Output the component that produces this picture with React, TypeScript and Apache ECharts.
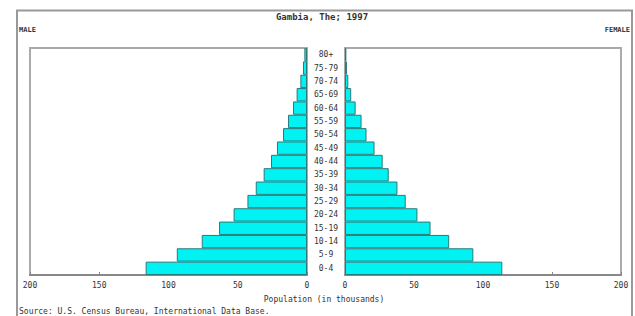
import React, { useEffect, useRef } from "react";
import * as echarts from "echarts";

const ageGroups = ["0-4", "5-9", "10-14", "15-19", "20-24", "25-29", "30-34", "35-39", "40-44", "45-49", "50-54", "55-59", "60-64", "65-69", "70-74", "75-79", "80+"];
const maleValues = [116.5, 94, 76, 63.5, 53, 43, 37, 31.3, 26, 21.7, 17.3, 13.7, 10.1, 7.5, 4.8, 2.9, 1.9];
const femaleValues = [114, 93, 75.5, 62, 52.5, 44, 38, 31.7, 27.3, 21.4, 15.6, 12, 7.7, 4.5, 2.4, 1.4, 1];
const xTicks = [0, 50, 100, 150, 200];

const FONT = "DejaVu Sans Mono";
const TXT = "#333";

export default function App() {
  const ref = useRef<HTMLDivElement>(null);
  useEffect(() => {
    if (!ref.current) return;
    const chart = echarts.init(ref.current, null, { renderer: "svg" });
    const axisCommon = {
      type: "value",
      min: xTicks[0],
      max: xTicks[xTicks.length - 1],
      interval: 50,
      axisLine: { show: true, lineStyle: { color: "#888", width: 2 } },
      axisTick: { show: true, inside: true, length: 3, lineStyle: { color: "#888" } },
      splitLine: { show: false },
      axisLabel: { fontFamily: FONT, fontSize: 8, color: TXT, margin: 6 },
    };
    const barStyle = { color: "#00f2f2", borderColor: "#2a7a7a", borderWidth: 1 };
    chart.setOption({
      animation: false,
      backgroundColor: "#fff",
      grid: [
        { left: 30, right: 328, top: 48, bottom: 41, show: true, borderColor: "#aaa", borderWidth: 2 },
        { left: 345, right: 14, top: 48, bottom: 41, show: true, borderColor: "#aaa", borderWidth: 2 },
      ],
      xAxis: [
        { ...axisCommon, gridIndex: 0, inverse: true },
        { ...axisCommon, gridIndex: 1 },
      ],
      yAxis: [
        {
          type: "category",
          gridIndex: 0,
          data: ageGroups,
          position: "right",
          axisLine: { show: false },
          axisTick: { show: false },
          axisLabel: { fontFamily: FONT, fontSize: 8, color: TXT, margin: 19, align: "center" },
        },
        {
          type: "category",
          gridIndex: 1,
          data: ageGroups,
          axisLine: { show: false },
          axisTick: { show: false },
          axisLabel: { show: false },
        },
      ],
      series: [
        { type: "bar", xAxisIndex: 0, yAxisIndex: 0, data: maleValues, barCategoryGap: 0, itemStyle: barStyle },
        { type: "bar", xAxisIndex: 1, yAxisIndex: 1, data: femaleValues, barCategoryGap: 0, itemStyle: barStyle },
      ],
      graphic: [
        { type: "line", shape: { x1: 16, y1: 10.5, x2: 633, y2: 10.5 }, style: { stroke: "#999", lineWidth: 2 } },
        { type: "line", shape: { x1: 17, y1: 10, x2: 17, y2: 316 }, style: { stroke: "#999", lineWidth: 2 } },
        { type: "line", shape: { x1: 632, y1: 10, x2: 632, y2: 316 }, style: { stroke: "#999", lineWidth: 2 } },
        { type: "text", x: 322, y: 17, style: { text: "Gambia, The; 1997", fontFamily: FONT, fontSize: 9, fontWeight: "bold", fill: TXT, align: "center", verticalAlign: "middle" } },
        { type: "text", x: 19, y: 30, style: { text: "MALE", fontFamily: FONT, fontSize: 7, fontWeight: "bold", fill: TXT, align: "left", verticalAlign: "middle" } },
        { type: "text", x: 630, y: 30, style: { text: "FEMALE", fontFamily: FONT, fontSize: 7, fontWeight: "bold", fill: TXT, align: "right", verticalAlign: "middle" } },
        { type: "text", x: 324, y: 299, style: { text: "Population (in thousands)", fontFamily: FONT, fontSize: 8, fill: TXT, align: "center", verticalAlign: "middle" } },
        { type: "text", x: 19, y: 311, style: { text: "Source: U.S. Census Bureau, International Data Base.", fontFamily: FONT, fontSize: 8, fill: TXT, align: "left", verticalAlign: "middle" } },
      ],
    });
    return () => chart.dispose();
  }, []);
  return <div ref={ref} style={{ position: "fixed", left: 0, top: 0, width: 635, height: 316 }} />;
}
